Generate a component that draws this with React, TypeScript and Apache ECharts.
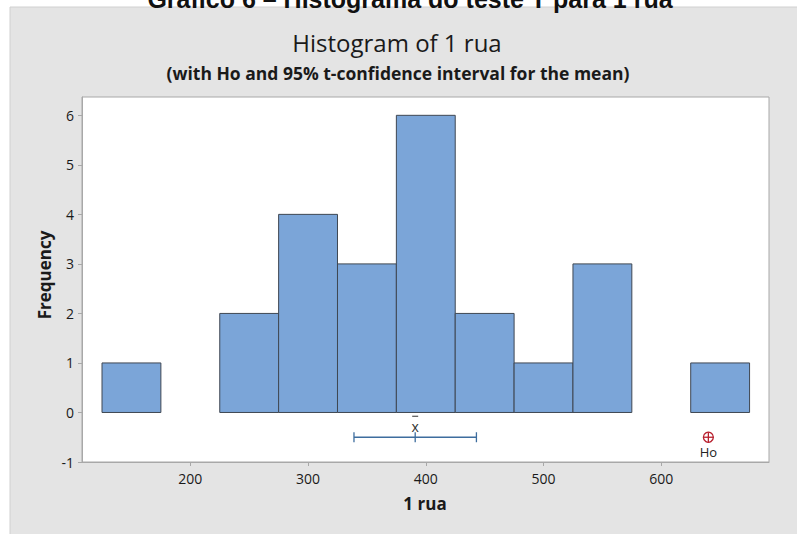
import React, { useEffect, useRef } from "react";
import * as echarts from "echarts";

const binStarts = [125, 175, 225, 275, 325, 375, 425, 475, 525, 575, 625];
const binWidth = 50;
const counts = [1, 0, 2, 4, 3, 6, 2, 1, 3, 0, 1];
const xTicks = [200, 300, 400, 500, 600];
const yTicks = [-1, 0, 1, 2, 3, 4, 5, 6];
const meanValue = 391;
const ciLow = 339;
const ciHigh = 443;
const hoValue = 640;
const markerLevel = -0.5;

const FONT = "'Open Sans', 'Noto Sans', sans-serif";

export default function App() {
  const ref = useRef<HTMLDivElement>(null);
  useEffect(() => {
    document.body.style.margin = "0";
    if (!ref.current) return;
    const chart = echarts.init(ref.current, null, { renderer: "svg" });
    const gridLeft = 82;
    const gridTop = 97;
    const gridW = 687;
    const gridH = 365;
    const binData = binStarts.map((s, i) => [s, s + binWidth, counts[i]]);
    chart.setOption({
      animation: false,
      backgroundColor: "#ffffff",
      textStyle: { fontFamily: FONT },
      graphic: [
        {
          type: "rect",
          z: -10,
          shape: { x: 10, y: 7, width: 800, height: 540 },
          style: { fill: "#e4e4e4", stroke: "#d0d0d0", lineWidth: 1 },
          silent: true,
        },
        {
          type: "text",
          x: 410,
          y: -1,
          style: {
            text: "Gráfico 6 – Histograma do teste T para 1 rua",
            font: "bold 25px 'Liberation Sans', Arial, sans-serif",
            fill: "#111",
            textAlign: "center",
            textVerticalAlign: "middle",
          },
        },
        {
          type: "text",
          x: 397,
          y: 42,
          style: {
            text: "Histogram of 1 rua",
            font: `24px ${FONT}`,
            fill: "#1a1a1a",
            textAlign: "center",
            textVerticalAlign: "middle",
          },
        },
        {
          type: "text",
          x: 398,
          y: 73,
          style: {
            text: "(with Ho and 95% t-confidence interval for the mean)",
            font: `bold 17.5px ${FONT}`,
            fill: "#1a1a1a",
            textAlign: "center",
            textVerticalAlign: "middle",
          },
        },
        {
          type: "text",
          x: 425,
          y: 503,
          style: {
            text: "1 rua",
            font: `bold 17px ${FONT}`,
            fill: "#1a1a1a",
            textAlign: "center",
            textVerticalAlign: "middle",
          },
        },
        {
          type: "text",
          x: 44,
          y: 275,
          rotation: Math.PI / 2,
          style: {
            text: "Frequency",
            font: `bold 17px ${FONT}`,
            fill: "#1a1a1a",
            textAlign: "center",
            textVerticalAlign: "middle",
          },
        },
      ],
      grid: {
        left: gridLeft,
        top: gridTop,
        width: gridW,
        height: gridH,
        show: true,
        backgroundColor: "#ffffff",
        borderColor: "#a8a8a8",
        borderWidth: 1,
      },
      xAxis: {
        type: "value",
        min: 108,
        max: 691.5,
        splitLine: { show: false },
        axisLine: { show: true, onZero: false, lineStyle: { color: "#a8a8a8" } },
        axisTick: {
          show: true,
          length: 4,
          customValues: xTicks,
          lineStyle: { color: "#a8a8a8" },
        },
        axisLabel: {
          customValues: xTicks,
          color: "#1a1a1a",
          fontSize: 14,
          margin: 9,
          fontFamily: FONT,
        },
      },
      yAxis: {
        type: "value",
        min: -1,
        max: 6.37,
        splitLine: { show: false },
        axisLine: { show: true, onZero: false, lineStyle: { color: "#a8a8a8" } },
        axisTick: {
          show: true,
          length: 4,
          customValues: yTicks,
          lineStyle: { color: "#a8a8a8" },
        },
        axisLabel: {
          customValues: yTicks,
          color: "#1a1a1a",
          fontSize: 14,
          margin: 8,
          fontFamily: FONT,
        },
      },
      series: [
        {
          type: "custom",
          data: binData,
          encode: { x: [0, 1], y: 2 },
          renderItem: (params: any, api: any) => {
            const c = api.value(2);
            if (!c) return null;
            const p0 = api.coord([api.value(0), 0]);
            const p1 = api.coord([api.value(1), c]);
            return {
              type: "rect",
              shape: {
                x: p0[0],
                y: p1[1],
                width: p1[0] - p0[0],
                height: p0[1] - p1[1],
              },
              style: { fill: "#7ba5d8", stroke: "#3f4752", lineWidth: 1 },
            };
          },
        },
        {
          type: "custom",
          data: [[ciLow, ciHigh, meanValue, markerLevel]],
          encode: { x: [0, 1, 2], y: 3 },
          renderItem: (params: any, api: any) => {
            const y = api.value(3);
            const a = api.coord([api.value(0), y]);
            const b = api.coord([api.value(1), y]);
            const m = api.coord([api.value(2), y]);
            const col = "#3d6d9e";
            return {
              type: "group",
              children: [
                { type: "line", shape: { x1: a[0], y1: a[1], x2: b[0], y2: b[1] }, style: { stroke: col, lineWidth: 1.3 } },
                { type: "line", shape: { x1: a[0], y1: a[1] - 5, x2: a[0], y2: a[1] + 5 }, style: { stroke: col, lineWidth: 1.3 } },
                { type: "line", shape: { x1: b[0], y1: b[1] - 5, x2: b[0], y2: b[1] + 5 }, style: { stroke: col, lineWidth: 1.3 } },
                { type: "line", shape: { x1: m[0], y1: m[1] - 5, x2: m[0], y2: m[1] + 5 }, style: { stroke: col, lineWidth: 1.3 } },
                {
                  type: "text",
                  x: m[0],
                  y: m[1] - 11,
                  style: {
                    text: "x",
                    font: `14px ${FONT}`,
                    fill: "#333",
                    align: "center",
                    verticalAlign: "middle",
                  },
                },
                { type: "line", shape: { x1: m[0] - 3, y1: m[1] - 21, x2: m[0] + 3, y2: m[1] - 21 }, style: { stroke: "#333", lineWidth: 1 } },
              ],
            };
          },
        },
        {
          type: "custom",
          data: [[hoValue, markerLevel]],
          encode: { x: 0, y: 1 },
          renderItem: (params: any, api: any) => {
            const p = api.coord([api.value(0), api.value(1)]);
            const red = "#b8202e";
            return {
              type: "group",
              children: [
                { type: "circle", shape: { cx: p[0], cy: p[1], r: 5 }, style: { fill: "none", stroke: red, lineWidth: 1.3 } },
                { type: "line", shape: { x1: p[0] - 5, y1: p[1], x2: p[0] + 5, y2: p[1] }, style: { stroke: red, lineWidth: 1.3 } },
                { type: "line", shape: { x1: p[0], y1: p[1] - 5, x2: p[0], y2: p[1] + 5 }, style: { stroke: red, lineWidth: 1.3 } },
                {
                  type: "text",
                  x: p[0],
                  y: p[1] + 15,
                  style: {
                    text: "Ho",
                    font: `13px ${FONT}`,
                    fill: "#222",
                    align: "center",
                    verticalAlign: "middle",
                  },
                },
              ],
            };
          },
        },
      ],
    });
    return () => chart.dispose();
  }, []);
  return <div ref={ref} style={{ width: 797, height: 534 }} />;
}
